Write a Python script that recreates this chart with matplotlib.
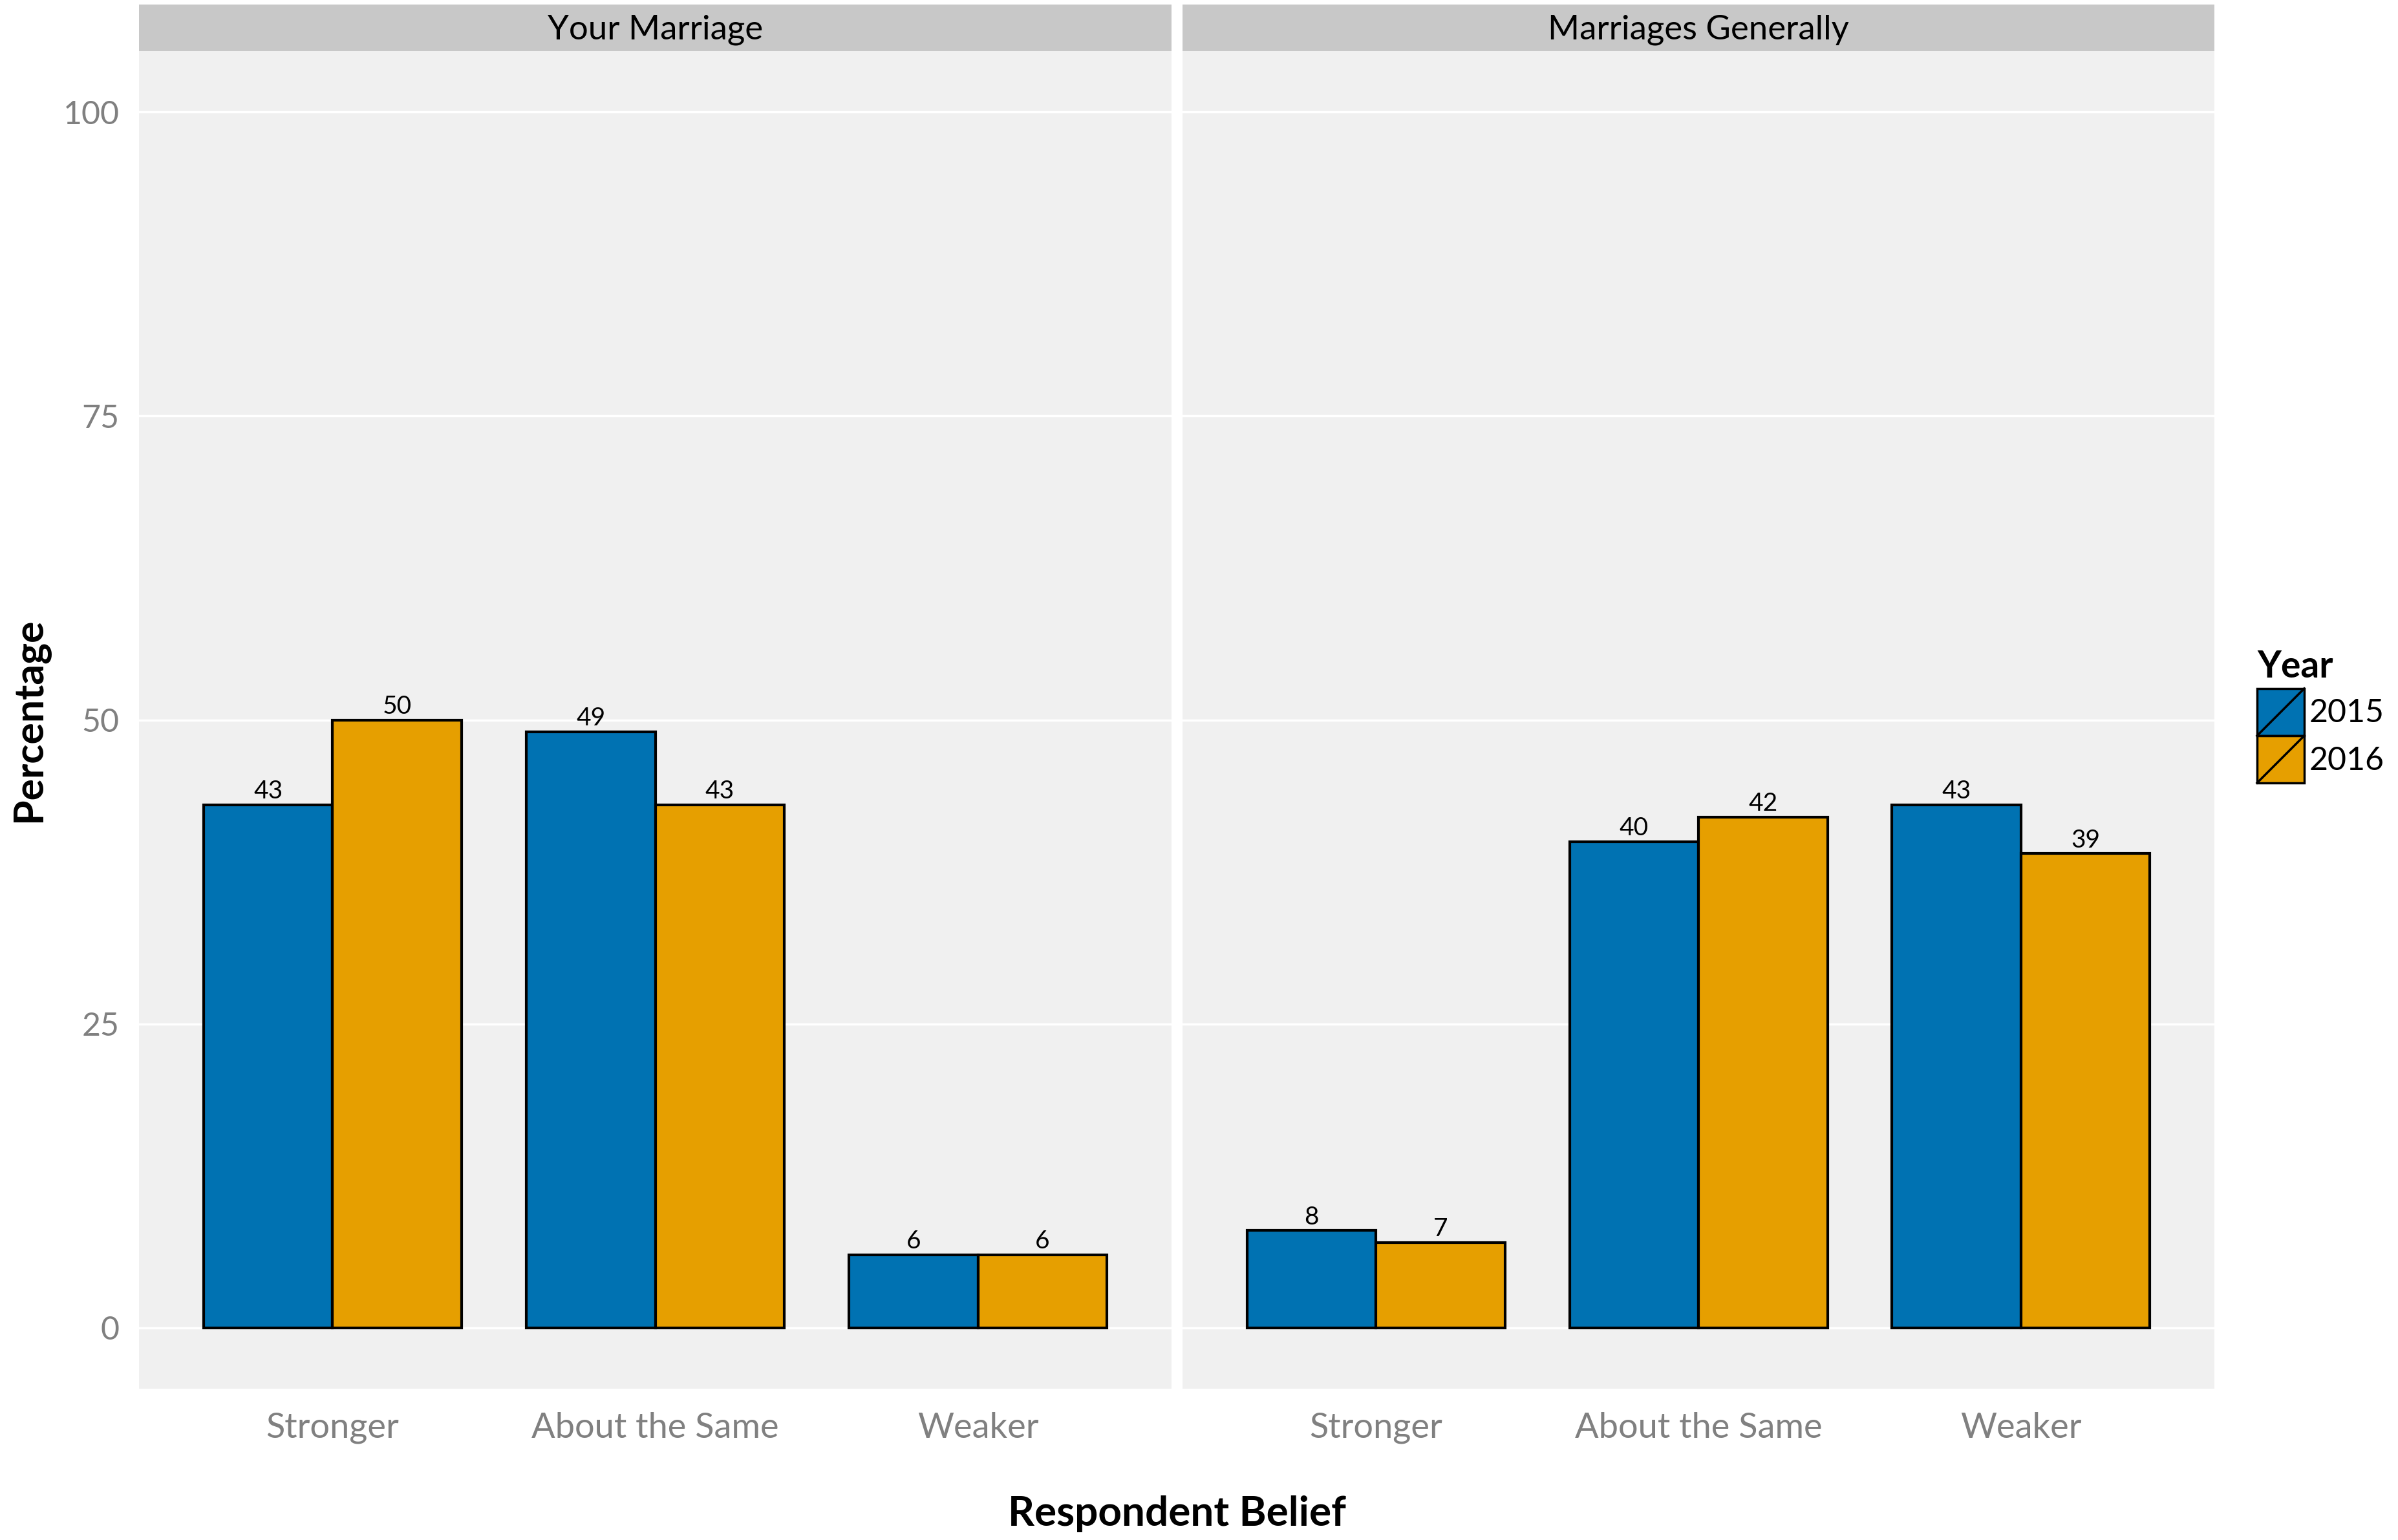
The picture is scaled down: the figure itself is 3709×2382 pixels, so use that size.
import matplotlib
matplotlib.use("Agg")
import matplotlib.pyplot as plt
from matplotlib.patches import Rectangle
from matplotlib.lines import Line2D
from matplotlib.legend_handler import HandlerBase
import numpy as np

plt.rcParams["font.family"] = ["Lato", "DejaVu Sans"]

# data
panels = ["Your Marriage", "Marriages Generally"]
categories = ["Stronger", "About the Same", "Weaker"]
years = ["2015", "2016"]
your_2015 = [43, 49, 6]
your_2016 = [50, 43, 6]
general_2015 = [8, 40, 43]
general_2016 = [7, 42, 39]
values = [[your_2015, your_2016], [general_2015, general_2016]]
colors = ["#0072B2", "#E69F00"]
yticks = [0, 25, 50, 75, 100]

W, H = 3709, 2382
fig = plt.figure(figsize=(W / 100, H / 100), dpi=100)

panel_x = [(215, 1812), (1829, 3425)]
panel_top, panel_bottom = 79, 2148
strip_top = 7

x = np.arange(len(categories))
bw = 0.4

for i, name in enumerate(panels):
    x0, x1 = panel_x[i]
    ax = fig.add_axes([x0 / W, 1 - panel_bottom / H, (x1 - x0) / W, (panel_bottom - panel_top) / H])
    ax.set_facecolor("#F0F0F0")
    for s in ax.spines.values():
        s.set_visible(False)
    ax.set_xlim(-0.6, 2.6)
    ax.set_ylim(-5, 105)
    ax.set_yticks(yticks)
    ax.grid(axis="y", color="white", lw=2.5)
    ax.set_axisbelow(True)
    ax.tick_params(axis="x", length=0, labelsize=39, labelcolor="#808080", pad=26)
    ax.tick_params(axis="y", length=0, labelsize=36, labelcolor="#808080", pad=22)
    ax.set_xticks(x)
    ax.set_xticklabels(categories)
    if i > 0:
        ax.set_yticklabels([])
    else:
        ax.set_ylabel("Percentage", fontsize=45, fontweight="bold", labelpad=16)

    for j, yr in enumerate(years):
        pos = x + (j - 0.5) * bw
        bars = ax.bar(pos, values[i][j], width=bw, color=colors[j], edgecolor="black", lw=3, label=yr)
        for b, v in zip(bars, values[i][j]):
            ax.text(b.get_x() + b.get_width() / 2, v + 0.15, str(v), ha="center", va="bottom", fontsize=28)

    # facet strip
    sax = fig.add_axes([x0 / W, 1 - panel_top / H, (x1 - x0) / W, (panel_top - strip_top) / H])
    sax.set_facecolor("#C8C8C8")
    sax.set_xticks([])
    sax.set_yticks([])
    for s in sax.spines.values():
        s.set_visible(False)
    sax.text(0.5, 0.45, name, ha="center", va="center", fontsize=38, transform=sax.transAxes)

fig.text(1820 / W, 1 - 2342 / H, "Respondent Belief", ha="center", va="center", fontsize=46, fontweight="bold")


class SlashKey(HandlerBase):
    def create_artists(self, legend, orig_handle, xdescent, ydescent, width, height, fontsize, trans):
        r = Rectangle((-xdescent, -ydescent), width, height, facecolor=orig_handle.get_facecolor(),
                      edgecolor="black", lw=2.5, transform=trans)
        l = Line2D([-xdescent, -xdescent + width], [-ydescent, -ydescent + height], color="black", lw=2.5,
                   transform=trans)
        return [r, l]


handles = [Rectangle((0, 0), 1, 1, facecolor=c) for c in colors]
leg = fig.legend(handles, years, handler_map={Rectangle: SlashKey()}, title="Year",
                 loc="upper left", bbox_to_anchor=(3491 / W, 1 - 1005 / H), frameon=False,
                 fontsize=36, title_fontsize=41, handlelength=1.46, handleheight=1.87,
                 labelspacing=0.0, handletextpad=0.15, borderaxespad=0, borderpad=0)
leg.get_title().set_fontweight("bold")
leg._legend_box.align = "left"
leg._legend_box.sep = 5

fig.savefig("out.png", dpi=100)
